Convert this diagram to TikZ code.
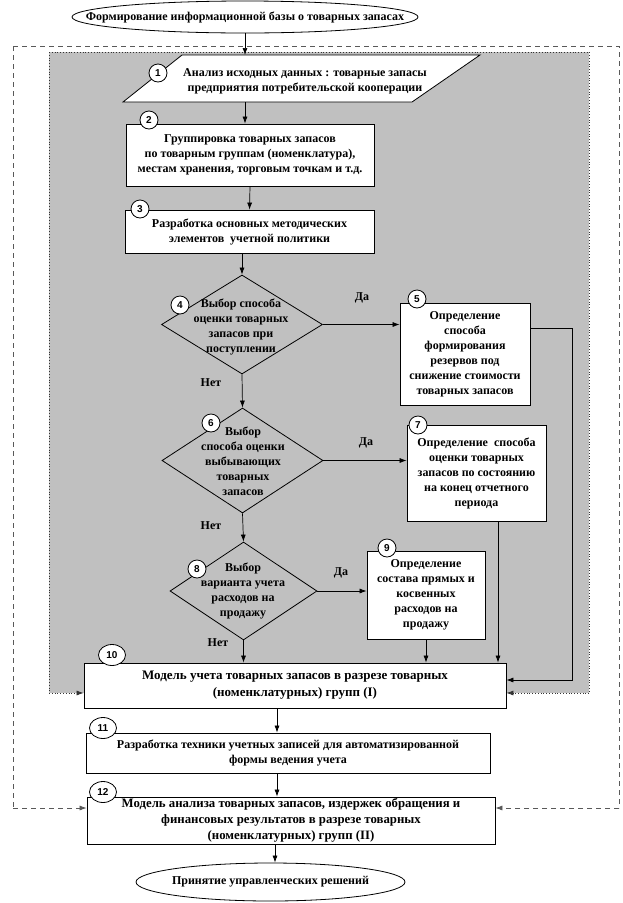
\documentclass[tikz,border=0pt]{standalone}
\usepackage{fontspec}
\setmainfont{Liberation Serif}
\setsansfont{Liberation Sans}
\usetikzlibrary{shapes.geometric,arrows.meta}
\definecolor{panelgray}{HTML}{C0C0C0}
\begin{document}
\begin{tikzpicture}[x=1pt,y=-1pt,
 txt/.style={font=\fontsize{12}{15}\selectfont\bfseries, align=center, inner sep=0},
 bigtxt/.style={txt, font=\fontsize{13}{17}\selectfont\bfseries},
 box/.style={draw, fill=white, line width=0.8pt, rectangle, inner sep=0},
 diam/.style={draw, diamond, fill=panelgray, line width=0.8pt, inner sep=0},
 oval/.style={draw, ellipse, fill=white, line width=0.8pt, inner sep=0},
 num/.style={draw, fill=white, ellipse, minimum width=18, minimum height=18, inner sep=0, line width=0.8pt, font=\sffamily\bfseries\fontsize{10}{10}\selectfont},
 numw/.style={num, minimum width=27, minimum height=21},
 arr/.style={-{Latex[length=7pt,width=5pt]}, line width=0.7pt},
 dsh/.style={black!65, line width=0.8pt, dash pattern=on 5pt off 4pt},
 dots/.style={black!80, line width=0.8pt, dotted},
]
\useasboundingbox (0,0) rectangle (623,903);

% gray panel
\coordinate (g1) at (49,52);
\coordinate (g2) at (589,52);
\coordinate (g3) at (589,693);
\coordinate (g4) at (49,693);
\fill[panelgray] (g1) rectangle (g3);

% nodes
\node[oval, minimum width=346, minimum height=32] (e0) at (245,17) {};
\node[txt] (t0) at (245,17) {Формирование информационной базы о товарных запасах};

\draw[fill=white, line width=0.8pt] (182,55) -- (480,55) -- (412,102) -- (123,102) -- cycle;
\node[txt] (p1) at (305,81) {Анализ исходных данных : товарные запасы\\предприятия потребительской кооперации};

\node[box, minimum width=248, minimum height=62] (b2) at (250,155) {};
\node[txt] (t2) at (b2.center) {Группировка товарных запасов\\по товарным группам (номенклатура),\\местам хранения, торговым точкам и т.д.};

\node[box, minimum width=249, minimum height=43] (b3) at (249.5,231.5) {};
\node[txt] (t3) at (b3.center) {Разработка основных методических\\элементов\ \ учетной политики};

\node[diam, minimum width=161, minimum height=99] (d4) at (242,324.5) {};
\node[txt] (t4) at (241,327) {Выбор способа\\оценки товарных\\запасов при\\поступлении};

\node[box, minimum width=130, minimum height=102] (b5) at (465,354) {};
\node[txt] (t5) at (b5.center) {Определение\\способа\\формирования\\резервов под\\снижение стоимости\\товарных запасов};

\node[diam, minimum width=161, minimum height=105] (d6) at (242.5,460.5) {};
\node[txt] (t6) at (243,461) {Выбор\\способа оценки\\выбывающих\\товарных\\запасов};

\node[box, minimum width=139, minimum height=96] (b7) at (476.5,473) {};
\node[txt] (t7) at (b7.center) {Определение\ \ способа\\оценки товарных\\запасов по состоянию\\на конец отчетного\\периода};

\node[diam, minimum width=147, minimum height=98] (d8) at (243.5,591) {};
\node[txt] (t8) at (243,591) {Выбор\\варианта учета\\расходов на\\продажу};

\node[box, minimum width=118, minimum height=88] (b9) at (426,595) {};
\node[txt] (t9) at (b9.center) {Определение\\состава прямых и\\косвенных\\расходов на\\продажу};

\node[box, minimum width=422, minimum height=45] (b10) at (295,685.5) {};
\node[bigtxt] (t10) at (b10.center) {Модель учета товарных запасов в разрезе товарных\\(номенклатурных) групп (I)};

\node[box, minimum width=404, minimum height=40] (b11) at (288,753) {};
\node[txt] (t11) at (b11.center) {Разработка техники учетных записей для автоматизированной\\формы ведения учета};

\node[box, minimum width=408, minimum height=47] (b12) at (291,820.5) {};
\node[txt, font=\fontsize{12.8}{16}\selectfont\bfseries] (t12) at (b12.center) {Модель анализа товарных запасов, издержек обращения и\\финансовых результатов в разрезе товарных\\(номенклатурных) групп (II)};

\node[oval, minimum width=269, minimum height=38] (e13) at (270.5,882) {};
\node[txt] (t13) at (e13.center) {Принятие управленческих решений};

% labels
\node[txt] (da4) at (362,298) {Да};
\node[txt] (net4) at (211,383) {Нет};
\node[txt] (da6) at (366,443) {Да};
\node[txt] (net6) at (211,526) {Нет};
\node[txt] (da8) at (341,573) {Да};
\node[txt] (net8) at (218,643) {Нет};

% dotted panel border with arrows
\draw[dots] (g1) -- (g4);
\draw[dots, arr] (g4) -- (g4 -| b10.west);
\draw[dots] (g1) -- (g2) -- (g3);
\draw[dots, arr] (g3) -- (g3 -| b10.east);

% dashed outer loop
\coordinate (dtl) at (13,46);
\coordinate (dtr) at (619,46);
\coordinate (dl) at (13,808);
\coordinate (dr) at (619,808);
\draw[dsh] (dtl) -- (dl);
\draw[dsh, arr] (dl) -- (dl -| b12.west);
\draw[dsh] (dtl) -- (dtr) -- (dr);
\draw[dsh, arr] (dr) -- (dr -| b12.east);

% connectors
\coordinate (a0) at (245,55);
\draw[arr] (e0.south) -- (a0);
\coordinate (a1) at (245,102);
\draw[arr] (a1) -- (a1 |- b2.north);
\draw[arr] (b2.south) -- (b3.north);
\draw[arr] (b3.south -| d4.north) -- (d4.north);
\draw[arr] (d4.east) -- (d4.east -| b5.west);
\draw[arr] (d4.south) -- (d6.north);
\draw[arr] (d6.east) -- (d6.east -| b7.west);
\draw[arr] (d6.south) -- (d8.north);
\draw[arr] (d8.east) -- (d8.east -| b9.west);
\draw[arr] (d8.south) -- (d8.south |- b10.north);
\draw[arr] (b9.south) -- (b9.south |- b10.north);
\coordinate (c7) at (498,521);
\draw[arr] (c7) -- (c7 |- b10.north);
\coordinate (c5) at (572,328);
\coordinate (c5b) at (572,680);
\draw[arr] (b5.east |- c5) -- (c5) -- (c5b) -- (c5b -| b10.east);
\coordinate (c10) at (277,708);
\draw[arr] (c10) -- (c10 |- b11.north);
\coordinate (c11) at (277,773);
\draw[arr] (c11) -- (c11 |- b12.north);
\coordinate (c12) at (275,844);
\draw[arr] (c12) -- (c12 |- e13.north);

% number markers
\node[num] (n1) at (158,73) {1};
\node[num] (n2) at (149,120) {2};
\node[num] (n3) at (140,209) {3};
\node[num] (n4) at (180,305) {4};
\node[num] (n5) at (417,299) {5};
\node[num] (n6) at (211,423) {6};
\node[num] (n7) at (418,425) {7};
\node[num] (n8) at (197,569) {8};
\node[num] (n9) at (387,548) {9};
\node[numw] (n10) at (112,655) {10};
\node[numw] (n11) at (103,728) {11};
\node[numw] (n12) at (103,792) {12};
\end{tikzpicture}
\end{document}
